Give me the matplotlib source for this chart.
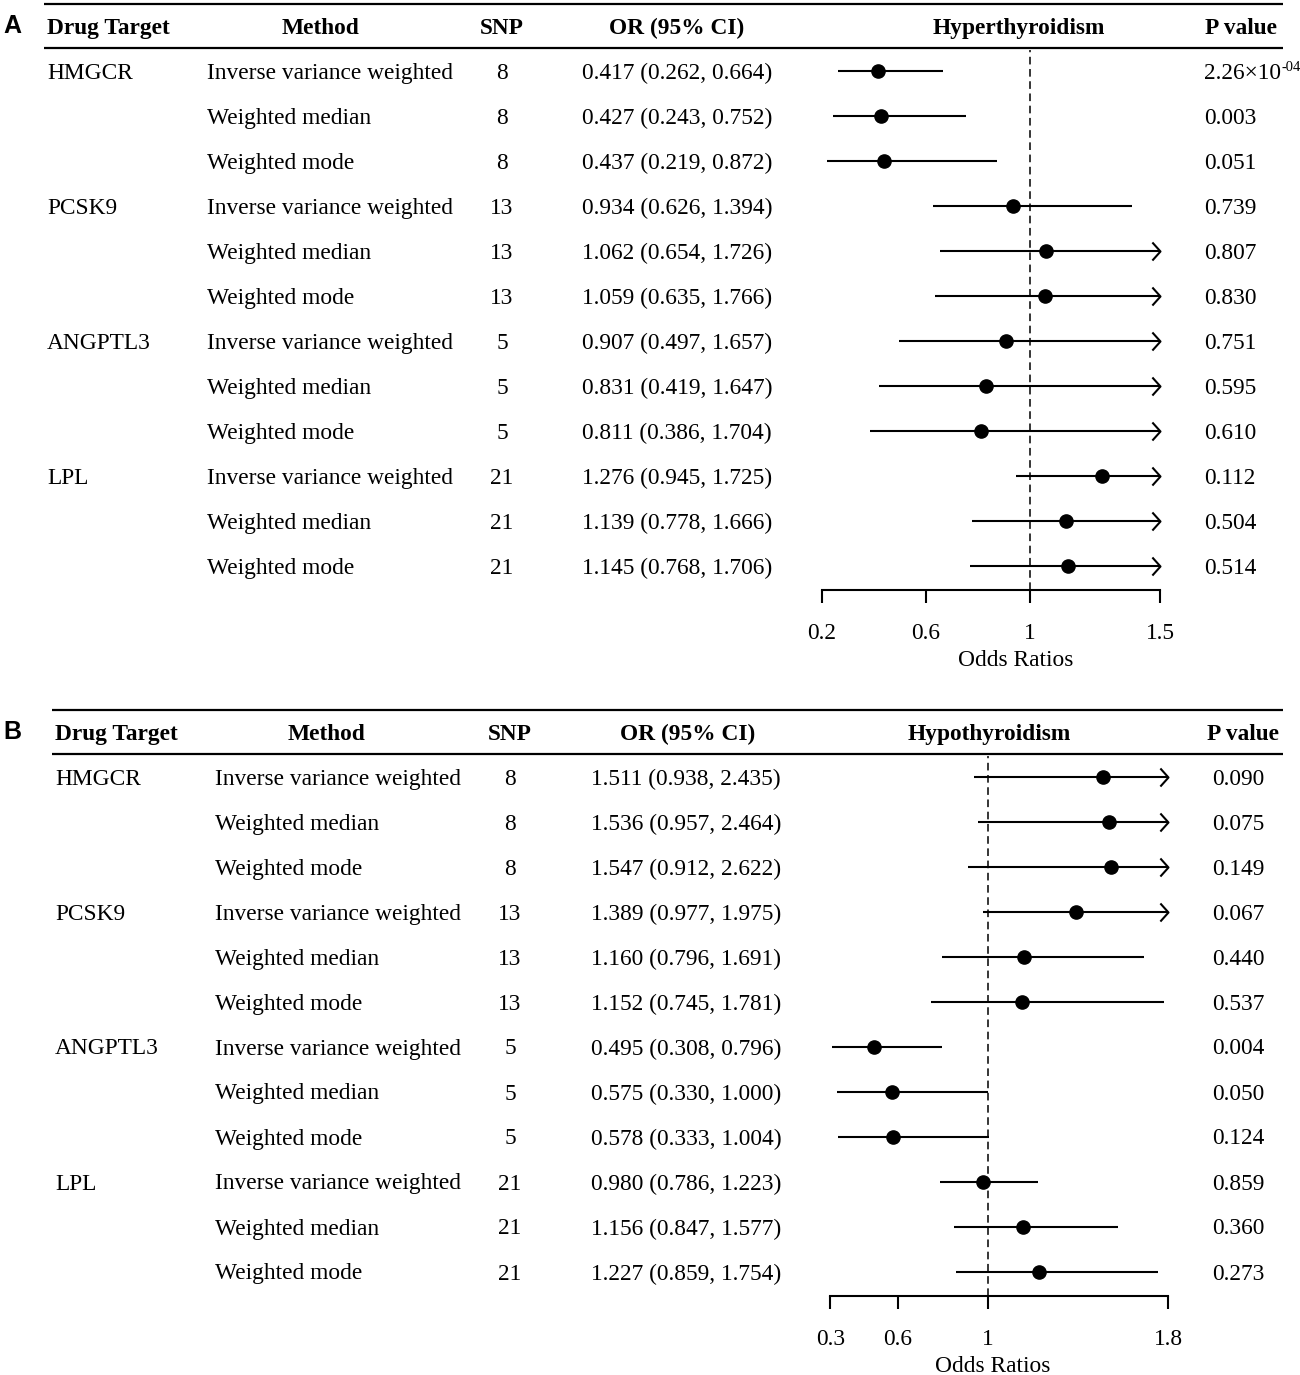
import numpy as np
import matplotlib
matplotlib.use('Agg')
import matplotlib.pyplot as plt

plt.rcParams['font.family'] = 'Liberation Serif'

# data
targets = ['HMGCR', 'PCSK9', 'ANGPTL3', 'LPL']
methods = ['Inverse variance weighted', 'Weighted median', 'Weighted mode']
snp = [8, 8, 8, 13, 13, 13, 5, 5, 5, 21, 21, 21]

or_hyper = [0.417, 0.427, 0.437, 0.934, 1.062, 1.059, 0.907, 0.831, 0.811, 1.276, 1.139, 1.145]
lo_hyper = [0.262, 0.243, 0.219, 0.626, 0.654, 0.635, 0.497, 0.419, 0.386, 0.945, 0.778, 0.768]
hi_hyper = [0.664, 0.752, 0.872, 1.394, 1.726, 1.766, 1.657, 1.647, 1.704, 1.725, 1.666, 1.706]
# (mantissa, exponent) for values printed in scientific form
p_hyper = [('2.26×10', '-04'), '0.003', '0.051', '0.739', '0.807', '0.830',
           '0.751', '0.595', '0.610', '0.112', '0.504', '0.514']

or_hypo = [1.511, 1.536, 1.547, 1.389, 1.160, 1.152, 0.495, 0.575, 0.578, 0.980, 1.156, 1.227]
lo_hypo = [0.938, 0.957, 0.912, 0.977, 0.796, 0.745, 0.308, 0.330, 0.333, 0.786, 0.847, 0.859]
hi_hypo = [2.435, 2.464, 2.622, 1.975, 1.691, 1.781, 0.796, 1.000, 1.004, 1.223, 1.577, 1.754]
p_hypo = ['0.090', '0.075', '0.149', '0.067', '0.440', '0.537',
          '0.004', '0.050', '0.124', '0.859', '0.360', '0.273']

ticks_hyper = [0.2, 0.6, 1, 1.5]
ticks_hypo = [0.3, 0.6, 1, 1.8]

W, H = 1300, 1375
FS = 16.8
ROW = 45

fig = plt.figure(figsize=(13, 13.75), dpi=100)
bg = fig.add_axes([0, 0, 1, 1])
bg.set_xlim(0, W)
bg.set_ylim(H, 0)
bg.axis('off')


def forest_panel(top, letter, outcome, ors, los, his, pvals, ticks, cols, heads,
                 x_one, px_unit, label_x):
    '''Draw one table + forest panel; top is the pixel row of the top rule.'''
    bg.text(3, top + 22, letter, fontfamily='Liberation Sans', fontweight='bold',
            fontsize=18, va='center', ha='left')
    left = cols[0] - 3
    bg.plot([left, 1283], [top, top], color='k', lw=1.6, solid_capstyle='butt')
    bg.plot([left, 1283], [top + 44, top + 44], color='k', lw=1.6, solid_capstyle='butt')

    hy = top + 24
    bg.text(cols[0], hy, 'Drug Target', fontweight='bold', fontsize=FS, va='center', ha='left')
    bg.text(heads[0], hy, 'Method', fontweight='bold', fontsize=FS, va='center', ha='center')
    bg.text(heads[1], hy, 'SNP', fontweight='bold', fontsize=FS, va='center', ha='center')
    bg.text(heads[2], hy, 'OR (95% CI)', fontweight='bold', fontsize=FS, va='center', ha='center')
    bg.text(heads[3], hy, outcome, fontweight='bold', fontsize=FS, va='center', ha='center')
    bg.text(heads[4], hy, 'P value', fontweight='bold', fontsize=FS, va='center', ha='center')

    for i in range(len(ors)):
        y = top + 69 + ROW * i
        if i % 3 == 0:
            bg.text(cols[0], y, targets[i // 3], fontsize=FS, va='center', ha='left')
        bg.text(cols[1], y, methods[i % 3], fontsize=FS, va='center', ha='left')
        bg.text(cols[2], y, str(snp[i]), fontsize=FS, va='center', ha='center')
        bg.text(cols[3], y, f'{ors[i]:.3f} ({los[i]:.3f}, {his[i]:.3f})',
                fontsize=FS, va='center', ha='center')
        if isinstance(pvals[i], tuple):
            t = bg.text(cols[4], y, pvals[i][0], fontsize=FS, va='center', ha='left')
            bg.annotate(pvals[i][1], xy=(1, 0.78), xycoords=t, fontsize=10.5,
                        va='center', ha='left')
        else:
            bg.text(cols[4], y, pvals[i], fontsize=FS, va='center', ha='left')

    # forest part
    ax = fig.add_axes([800 / W, 1 - (top + 586) / H, 400 / W, 540 / H])
    ax.patch.set_visible(False)
    ax.set_xlim(1 - (x_one - 800) / px_unit, 1 + (1200 - x_one) / px_unit)
    ax.set_ylim(len(ors) - 1 + 24 / ROW, -21 / ROW)
    ax.axvline(1, color='k', lw=1.1, ls=(0, (5, 3)))

    rows = np.arange(len(ors))
    for i in rows:
        hi = min(his[i], ticks[-1])
        ax.plot([los[i], hi], [i, i], color='k', lw=1.5, solid_capstyle='butt')
        if his[i] > ticks[-1]:
            ax.plot(ticks[-1], i, marker=[(-0.9, 1), (0, 0), (-0.9, -1)], ms=13,
                    mfc='none', mec='k', mew=1.5)
    ax.plot(ors, rows, 'o', color='k', ms=9.5)

    for s in ['top', 'left', 'right']:
        ax.spines[s].set_visible(False)
    ax.spines['bottom'].set_bounds(ticks[0], ticks[-1])
    ax.spines['bottom'].set_linewidth(1.5)
    ax.set_yticks([])
    ax.set_xticks(ticks)
    ax.set_xticklabels([f'{t:g}' for t in ticks])
    ax.tick_params(axis='x', length=9.5, width=1.5, direction='out', labelsize=FS, pad=14)
    ax.set_xlabel('Odds Ratios', fontsize=FS)
    ax.xaxis.set_label_coords((label_x - 800) / 400, -0.111)
    return ax


forest_panel(4, 'A', 'Hyperthyroidism', or_hyper, lo_hyper, hi_hyper, p_hyper, ticks_hyper,
             cols=[47, 207, 502, 677, 1204], heads=[321, 502, 677, 1019, 1241],
             x_one=1030, px_unit=260, label_x=1016)
forest_panel(710, 'B', 'Hypothyroidism', or_hypo, lo_hypo, hi_hypo, p_hypo, ticks_hypo,
             cols=[55, 215, 510, 686, 1212], heads=[327, 510, 688, 989, 1243],
             x_one=988, px_unit=225.3, label_x=993)

fig.savefig('out.png', dpi=100)
